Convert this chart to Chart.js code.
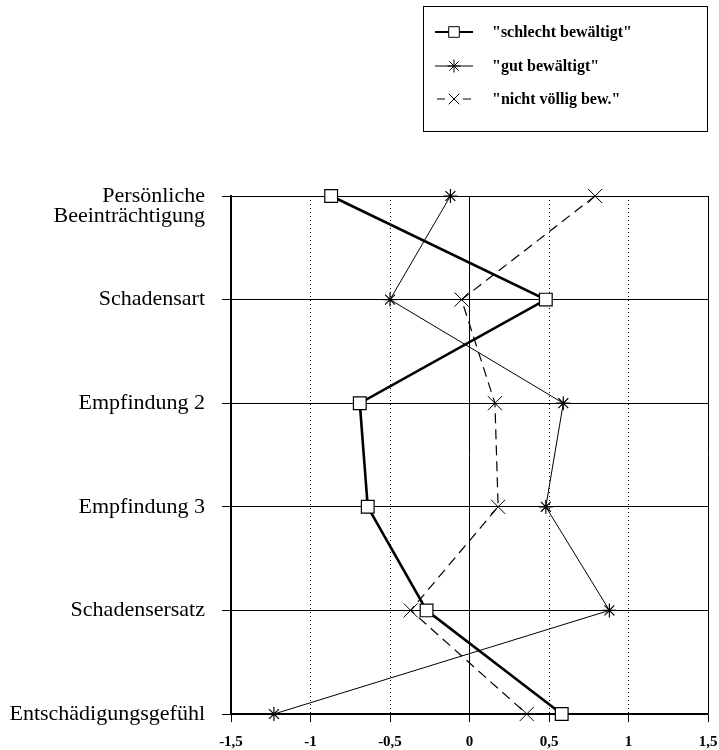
<!DOCTYPE html>
<html>
<head>
<meta charset="utf-8">
<script src="https://cdn.jsdelivr.net/npm/chart.js@4.4.0/dist/chart.umd.min.js"></script>
<style>
  html, body { margin: 0; padding: 0; background: #fff; }
  #wrap { width: 719px; height: 750px; position: relative; }
</style>
</head>
<body>
<div id="wrap"><canvas id="myChart" width="719" height="750"></canvas></div>
<script>
const categories = ['Persönliche\nBeeinträchtigung', 'Schadensart', 'Empfindung 2', 'Empfindung 3', 'Schadensersatz', 'Entschädigungsgefühl'];
const seriesNames = ['"schlecht bewältigt"', '"gut bewältigt"', '"nicht völlig bew."'];
const schlecht = [-0.87, 0.48, -0.69, -0.64, -0.27, 0.58];
const gut = [-0.12, -0.50, 0.59, 0.48, 0.88, -1.23];
const nichtVoellig = [0.79, -0.05, 0.16, 0.18, -0.37, 0.36];
const xMin = -1.5;
const xMax = 1.5;
const xStep = 0.5;

const serif = "'Liberation Serif', 'Times New Roman', serif";

// legend drawn by hand: line + marker + label in a framed box
const legendBox = {
    id: 'legendBox',
    afterDraw(chart) {
        const ctx = chart.ctx;
        ctx.save();
        ctx.strokeStyle = '#000';
        ctx.lineWidth = 1;
        ctx.strokeRect(423.5, 6.5, 284, 125);
        const rows = [32, 66, 99];
        ctx.textBaseline = 'middle';
        rows.forEach((y, i) => {
            const ds = chart.data.datasets[i];
            ctx.strokeStyle = '#000';
            ctx.lineWidth = i === 0 ? 2 : 1;
            ctx.beginPath();
            if (i === 2) {
                ctx.moveTo(437, y); ctx.lineTo(445, y);
                ctx.moveTo(463, y); ctx.lineTo(471, y);
            } else {
                ctx.moveTo(435, y); ctx.lineTo(473, y);
            }
            ctx.stroke();
            ctx.fillStyle = '#fff';
            ctx.lineWidth = 1;
            Chart.helpers.drawPoint(ctx, {
                pointStyle: ds.pointStyle,
                radius: i === 0 ? 7.5 : (i === 1 ? 6.5 : 7.5),
                rotation: 0,
                borderWidth: 1
            }, 454, y);
            ctx.fillStyle = '#000';
            ctx.font = 'bold 16px ' + serif;
            ctx.fillText(seriesNames[i], 492, y + 1);
        });
        ctx.restore();
    }
};

const ctx = document.getElementById('myChart').getContext('2d');
const myChart = new Chart(ctx, {
    type: 'line',
    data: {
        labels: categories,
        datasets: [{
            label: seriesNames[0],
            data: schlecht,
            borderColor: '#000',
            borderWidth: 2.6,
            pointStyle: 'rect',
            pointRadius: 9,
            pointBorderWidth: 1.2,
            pointBorderColor: '#000',
            pointBackgroundColor: '#fff',
            clip: false
        }, {
            label: seriesNames[1],
            data: gut,
            borderColor: '#000',
            borderWidth: 1,
            pointStyle: 'star',
            pointRadius: 7,
            pointBorderWidth: 1.2,
            pointBorderColor: '#000',
            pointBackgroundColor: '#000',
            clip: false
        }, {
            label: seriesNames[2],
            data: nichtVoellig,
            borderColor: '#000',
            borderWidth: 1.2,
            borderDash: [10, 6],
            pointStyle: 'crossRot',
            pointRadius: 10,
            pointBorderWidth: 1,
            pointBorderColor: '#000',
            pointBackgroundColor: '#000',
            clip: false
        }]
    },
    options: {
        indexAxis: 'y',
        responsive: false,
        animation: false,
        events: [],
        tension: 0,
        layout: { padding: { left: 0, right: 11, top: 196, bottom: 0 } },
        plugins: {
            legend: { display: false },
            tooltip: { enabled: false }
        },
        scales: {
            x: {
                type: 'linear',
                position: 'bottom',
                min: xMin,
                max: xMax,
                ticks: {
                    stepSize: xStep,
                    color: '#000',
                    padding: 11,
                    font: { family: serif, size: 15, weight: 'bold' },
                    callback: (v) => String(v).replace('.', ',')
                },
                grid: {
                    color: '#000',
                    lineWidth: 1,
                    tickLength: 8,
                    tickColor: '#000',
                    tickWidth: 1
                },
                border: {
                    display: true,
                    color: '#000',
                    width: 1.5,
                    dash: (c) => (c.tick && [xMin, 0, xMax].includes(c.tick.value)) ? [] : [1, 3]
                },
                afterFit: (s) => {
                    s.height = 36;
                    s.paddingLeft = 0;
                    s.paddingRight = 0;
                }
            },
            y: {
                type: 'category',
                position: 'left',
                ticks: {
                    color: '#000',
                    padding: 17,
                    font: { family: serif, size: 22, lineHeight: '20px' },
                    callback: function (v) {
                        const l = this.getLabelForValue(v);
                        return l.includes('\n') ? [''].concat(l.split('\n')) : l;
                    }
                },
                grid: {
                    color: '#000',
                    lineWidth: 1,
                    tickLength: 9,
                    tickColor: '#000'
                },
                border: { display: true, color: '#000', width: 2 },
                afterFit: (s) => {
                    s.width = 231;
                    s.paddingTop = 0;
                    s.paddingBottom = 0;
                }
            }
        }
    },
    plugins: [legendBox]
});
</script>
</body>
</html>
